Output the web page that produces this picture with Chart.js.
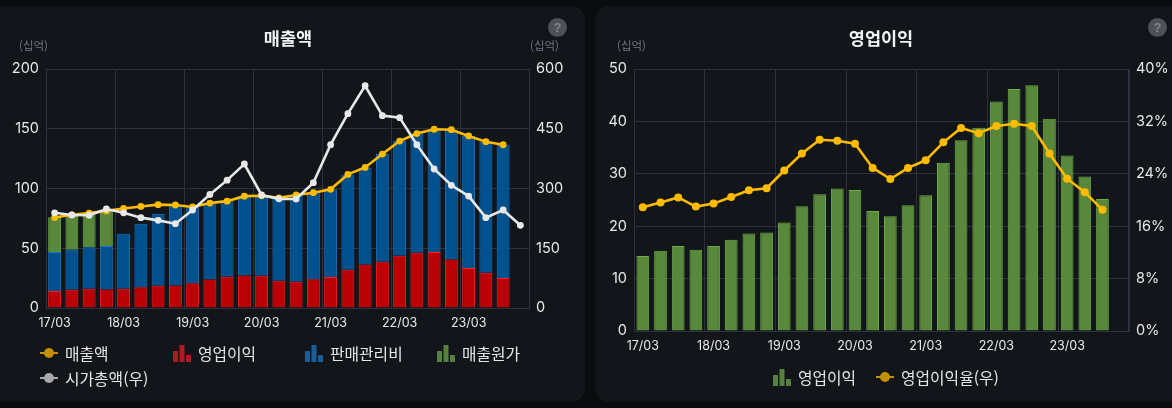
<!DOCTYPE html>
<html lang="ko"><head><meta charset="utf-8">
<script src="https://cdn.jsdelivr.net/npm/chart.js@4"></script>
<style>
html,body{margin:0;padding:0;background:#0a0c0f;width:1172px;height:408px;overflow:hidden}
body{position:relative;font-family:"Noto Sans CJK KR","Noto Sans",sans-serif}
.panel{position:absolute;top:6px;height:396px;background:#12161a}
#p1{left:-20px;width:605px;border-radius:14px}
#p2{left:595px;width:600px;border-radius:14px}
canvas{position:absolute;top:0}
.unit{position:absolute;top:37px;font-size:11.5px;line-height:16px;color:#6f7683}
.help{position:absolute;top:18px;width:19px;height:19px;border-radius:50%;background:#4e5159;color:#7f828a;font:bold 13px/19px "Liberation Sans";text-align:center}
.lg{position:absolute;display:flex;align-items:center;height:20px;color:#e4e6ea;font-size:15.8px;white-space:nowrap}
.lg svg{width:18px;height:18px;margin-right:7px;flex:none}
</style></head><body>
<div class="panel" id="p1"></div><div class="panel" id="p2"></div>
<canvas id="c1" width="576" height="408" style="left:0;width:576px;height:408px"></canvas>
<canvas id="c2" width="582" height="408" style="left:590px;width:582px;height:408px"></canvas>
<div class="unit" style="left:19px">(십억)</div>
<div class="unit" style="left:530px">(십억)</div>
<div class="unit" style="left:617px">(십억)</div>
<div class="help" style="left:548px">?</div>
<div class="help" style="left:1148px">?</div>
<div id="legends"></div>
<script>
const quarters = ["17/03","17/06","17/09","17/12","18/03","18/06","18/09","18/12","19/03","19/06","19/09","19/12","20/03","20/06","20/09","20/12","21/03","21/06","21/09","21/12","22/03","22/06","22/09","22/12","23/03","23/06","23/09","23/12"];
const sales = [75.7,78,79.4,81.3,83.3,85,86.5,86.2,84.5,87.8,89.4,93.6,93.9,92.2,94.6,96.5,99.3,111.8,117.6,128.8,139.7,146,149.6,149.2,144,139.2,136.6];
const opProfit = [14.3,15.3,16.2,15.5,16.2,17.4,18.6,18.8,20.7,23.8,26.1,27.2,26.9,22.9,21.9,24.0,25.9,32.1,36.4,38.8,43.8,46.2,46.9,40.5,33.5,29.5,25.2];
const sga = [32.6,33.5,34.6,36.4,46,53.1,60.3,67.4,63.8,64,63.3,66.4,67,69.3,72.7,72.5,73.4,79.7,81.2,90,95.9,99.8,102.7,108.7,110.5,109.7,111.4];
const cogs = [29,28.2,28.6,28.7];
const marketCap = [239,233.5,232.7,248.5,239,226.8,220,211.7,246,285,321,361.5,283.7,274,273.6,314.6,410,487.9,558,482.9,477.9,410,349,308,281,226.8,246,207.6];
const opMargin = [18.9,19.6,20.4,19.0,19.45,20.45,21.5,21.8,24.5,27.1,29.2,29.05,28.6,24.9,23.2,24.9,26.06,28.8,31.0,30.2,31.3,31.65,31.3,27.1,23.25,21.2,18.5];
const salesTicks = [0,50,100,150,200];
const capTicks = [0,150,300,450,600];
const profitTicks = [0,10,20,30,40,50];
const marginTicks = [0,8,16,24,32,40];

const GRID = "#2c313d", TXT = "#e6e8ec", FONT = "Inter,'Noto Sans CJK KR',sans-serif";
const RED = {f:"rgba(196,0,4,.95)", b:"#ff1f1f"}, BLUE = {f:"rgba(0,86,152,.93)", b:"#1a74c8"}, GREEN = {f:"rgba(92,140,62,.97)", b:"#6aae42"};
const bar = (label,data,c,order,pct) => ({type:"bar",label,data,backgroundColor:c.f,borderColor:c.b,borderWidth:1,barPercentage:pct,categoryPercentage:1,order,yAxisID:"y"});
const line = (label,data,color,order,axis,r) => ({type:"line",label,data,borderColor:color,backgroundColor:color,borderWidth:2.6,pointRadius:r,pointBorderWidth:0,tension:0,order,yAxisID:axis});
const fixedW = w => s => { s.width = w; };
const fixedTicks = list => s => { s.ticks = list.map(value => ({value})); };

function make(id, datasets, title, yMax, y2Max, yT, y2T, y2Fmt, lw, rw, bh, stacked){
  return new Chart(document.getElementById(id), {
    data:{labels:quarters, datasets},
    options:{
      responsive:false, animation:false, events:[],
      layout:{padding:0},
      plugins:{legend:{display:false}, tooltip:{enabled:false},
        title:{display:true,text:title,color:"#f0f2f5",font:{family:"'Noto Sans CJK KR'",size:17.5,weight:"bold",lineHeight:1.2},padding:{top:28,bottom:20}}},
      scales:{
        x:{stacked, offset:true, afterFit:s=>{s.height=bh;},
          grid:{offset:true,drawTicks:false,color:c=>(c.index===undefined||c.index%4===0)?GRID:"transparent"},
          border:{color:GRID},
          ticks:{autoSkip:false,maxRotation:0,padding:7.5,color:TXT,font:{family:FONT,size:12.5},callback(v,i){return i%4===0?this.getLabelForValue(v):"";}}},
        y:{position:"left",stacked,min:0,max:yMax,afterFit:fixedW(lw),afterBuildTicks:fixedTicks(yT),
          grid:{drawTicks:false,color:GRID},border:{color:GRID},
          ticks:{padding:7,color:TXT,font:{family:FONT,size:14.5}}},
        y2:{position:"right",min:0,max:y2Max,afterFit:fixedW(rw),afterBuildTicks:fixedTicks(y2T),
          grid:{display:false,drawTicks:false},border:{color:GRID},
          ticks:{padding:7,color:TXT,font:{family:FONT,size:14.5},callback:y2Fmt}}
      }
    }
  });
}
const ds1 = [
  line("매출액",sales,"#ffbb00",1,"y",3.4),
  bar("영업이익",opProfit,RED,2,.75),
  bar("판매관리비",sga,BLUE,3,.75),
  bar("매출원가",cogs,GREEN,4,.75),
  line("시가총액(우)",marketCap,"#e8e8e8",0,"y2",3.4)
];
const ds2 = [
  bar("영업이익",opProfit,GREEN,2,.72),
  line("영업이익율(우)",opMargin,"#ffbb00",1,"y2",4)
];
const c1 = make("c1",ds1,"매출액",200,600,salesTicks,capTicks,v=>v,46,47,100,true);
const c2 = make("c2",ds2,"영업이익",50,40,profitTicks,marginTicks,v=>v+"%",44,43,77,false);

const barIcon = c => `<svg viewBox="0 0 18 18"><rect x="0" y="7" width="5" height="11" fill="${c}"/><rect x="6.5" y="1" width="5" height="17" fill="${c}"/><rect x="13" y="11" width="5" height="7" fill="${c}"/></svg>`;
const lineIcon = c => `<svg viewBox="0 0 18 18"><rect x="0" y="8" width="18" height="2" fill="${c}"/><circle cx="9" cy="9" r="5" fill="${c}"/></svg>`;
const icons = {
  "c1":[lineIcon("#c49000"),barIcon("#b01a1f"),barIcon("#1a5e99"),barIcon("#55803d"),lineIcon("#a8a8a8")],
  "c2":[barIcon("#55803d"),lineIcon("#c49000")]
};
const slots = {"c1":[[40,343],[173,343],[305,343],[437,343],[40,368]],"c2":[[773,367],[876,367]]};
const host = document.getElementById("legends");
[["c1",c1],["c2",c2]].forEach(([k,ch])=>{
  ch.data.datasets.forEach((d,i)=>{
    const el=document.createElement("div");el.className="lg";
    el.style.left=slots[k][i][0]+"px";el.style.top=slots[k][i][1]+"px";
    el.innerHTML=icons[k][i]+"<span>"+d.label+"</span>";host.appendChild(el);
  });
});
</script></body></html>
